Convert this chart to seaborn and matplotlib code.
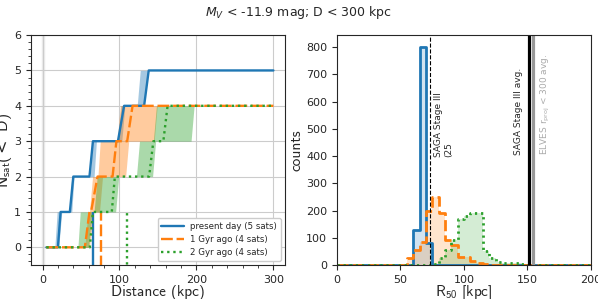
import matplotlib
matplotlib.use("Agg")
import matplotlib.pyplot as plt
import numpy as np
import pandas as pd
import seaborn as sns
from matplotlib.ticker import AutoMinorLocator, MultipleLocator

labels = ["present day (5 sats)", "1 Gyr ago (4 sats)", "2 Gyr ago (4 sats)"]
colors = ["#1f77b4", "#ff7f0e", "#2ca02c"]

# cumulative satellite counts, vertices of the curves (kpc, N_sat)
dist_now = [5, 20, 23.5, 35.5, 40, 61, 65.5, 98, 106, 132, 138, 300]
nsat_now = [0, 0, 1, 1, 2, 2, 3, 3, 4, 4, 5, 5]
dist_1gyr = [5, 55, 61, 63, 71.5, 91, 96, 110, 117, 300]
nsat_1gyr = [0, 0, 1, 1, 2, 2, 3, 3, 4, 4]
dist_2gyr = [5, 61.5, 65.5, 90, 94, 138.5, 144, 157, 162.5, 300]
nsat_2gyr = [0, 0, 1, 1, 2, 2, 3, 3, 4, 4]

# spread of each step: (low at bottom, high at bottom, low at top, high at top)
band_now = [(16, 21, 19, 25), (35, 38, 38, 41), (62, 67, 65, 70),
            (98, 103, 102, 107), (123, 132, 127, 137)]
band_1gyr = [(55, 61, 59, 66), (61, 74, 65, 78), (72, 108, 75, 112), (97, 145, 101, 149)]
band_2gyr = [(46, 60, 49, 64), (67, 95, 71, 99), (122, 143, 126, 147), (144, 193, 148, 197)]

r50_lines = [65.4, 76.5, 109.4]

# R50 histograms (5 kpc bins, left edge -> counts)
bins_now = [60, 65, 70]
counts_now = [128, 801, 80]
bins_1gyr = [55, 60, 65, 70, 75, 80, 85, 90, 95, 100, 105, 110, 115]
counts_1gyr = [24, 55, 85, 200, 251, 190, 92, 73, 30, 30, 16, 8, 5]
bins_2gyr = [75, 80, 85, 90, 95, 100, 105, 110, 115, 120, 125, 130, 135, 140, 145]
counts_2gyr = [5, 24, 55, 90, 168, 180, 192, 190, 50, 24, 12, 8, 7, 6, 4]

saga_r50 = 73.2
saga_avg = 150.9
elves_avg = 154.0

sns.set_style("ticks")
plt.rcParams["font.family"] = ["DejaVu Sans"]
plt.rcParams["mathtext.fontset"] = "custom"
plt.rcParams["mathtext.rm"] = "DejaVu Sans"
plt.rcParams["mathtext.it"] = "DejaVu Sans:italic"
plt.rcParams["mathtext.bf"] = "DejaVu Sans:bold"
plt.rcParams["mathtext.sf"] = "cmss10"
lab_font = "cmss10"

fig = plt.figure(figsize=(5.98, 2.99), dpi=100)
ax1 = fig.add_axes([0.0518, 0.1137, 0.4247, 0.769])
ax2 = fig.add_axes([0.5635, 0.1137, 0.4247, 0.769])

# ---- left: cumulative counts
styles = ["-", (0, (5, 1.6)), (0, (1, 1.6))]
curves = [(dist_now, nsat_now, band_now), (dist_1gyr, nsat_1gyr, band_1gyr),
          (dist_2gyr, nsat_2gyr, band_2gyr)]
ax1.axvline(0, color="#ebebeb", lw=2.5, zorder=0.5)
for (d, n, band), c, ls, lab, r50 in zip(curves, colors, styles, labels, r50_lines):
    for i, (lb, hb, lt, ht) in enumerate(band):
        ax1.fill_betweenx([i, i + 1], [lb, lt], [hb, ht], color=c, alpha=0.4, lw=0)
    sns.lineplot(x=d, y=n, sort=False, estimator=None, color=c, lw=1.7,
                 linestyle=ls, label=lab, ax=ax1)
    ax1.vlines(r50, -1, 1, colors=c, linestyles=ls, lw=1.7)

ax1.set_ylim(-0.5, 6)
ax1.xaxis.set_major_locator(MultipleLocator(100))
ax1.yaxis.set_major_locator(MultipleLocator(1))
ax1.xaxis.set_minor_locator(AutoMinorLocator())
ax1.yaxis.set_minor_locator(AutoMinorLocator())
ax1.grid(True, color="#cccccc", lw=0.8)
ax1.set_axisbelow(True)
ax1.set_xlabel("Distance (kpc)", fontfamily=lab_font, fontsize=11, labelpad=0)
ax1.set_ylabel(r"N$_{\mathsf{sat}}$($<$ D)", fontfamily=lab_font, fontsize=11.5)
ax1.yaxis.set_label_coords(-0.068, 0.5)
ax1.legend(loc="lower right", fontsize=6.2, handlelength=2.6, framealpha=1)

# ---- right: R50 distributions
hists = [(bins_now, counts_now), (bins_1gyr, counts_1gyr), (bins_2gyr, counts_2gyr)]
hstyles = ["-", (0, (4, 1.5)), (0, (0.8, 1.4))]
for (b, cnt), c, ls in zip(hists, colors, hstyles):
    hdf = pd.DataFrame({"r50": np.array(b) + 2.5, "n": cnt})
    sns.histplot(data=hdf, x="r50", weights="n", binwidth=5, binrange=(0, 200),
                 element="step", fill=True, color=c, alpha=0.2, lw=0, ax=ax2)
    sns.histplot(data=hdf, x="r50", weights="n", binwidth=5, binrange=(0, 200),
                 element="step", fill=False, color=c, lw=2, linestyle=ls, ax=ax2)

ax2.axvline(saga_r50, color="k", ls="--", lw=0.8)
ax2.axvline(saga_avg, color="k", lw=2.3)
ax2.axvline(elves_avg, color="#999999", lw=2.3)
ax2.text(saga_r50 + 3.3, 395, "SAGA Stage III\n(25", rotation=90, ha="left", va="bottom",
         fontsize=6.5, color=".15")
ax2.text(saga_avg - 4.3, 404, "SAGA Stage III avg.", rotation=90, ha="right", va="bottom",
         fontsize=6.5, color=".15")
ax2.text(elves_avg + 5.3, 404, r"ELVES r$_{\rm proj}$ < 300 avg.", rotation=90, ha="left",
         va="bottom", fontsize=6.5, color="#aaaaaa")

ax2.set_xlim(0, 200)
ax2.set_ylim(0, 844)
ax2.xaxis.set_major_locator(MultipleLocator(50))
ax2.yaxis.set_major_locator(MultipleLocator(100))
ax2.set_xlabel(r"R$_{\mathsf{50}}$ [kpc]", fontfamily=lab_font, fontsize=11, labelpad=-1)
ax2.set_ylabel("counts", fontfamily=lab_font, fontsize=11, labelpad=2)

for ax in (ax1, ax2):
    ax.tick_params(labelsize=8)

fig.suptitle(r"$M_V$ < -11.9 mag; D < 300 kpc", fontsize=9, y=0.958, va="center")
fig.savefig("out.png", dpi=100)
